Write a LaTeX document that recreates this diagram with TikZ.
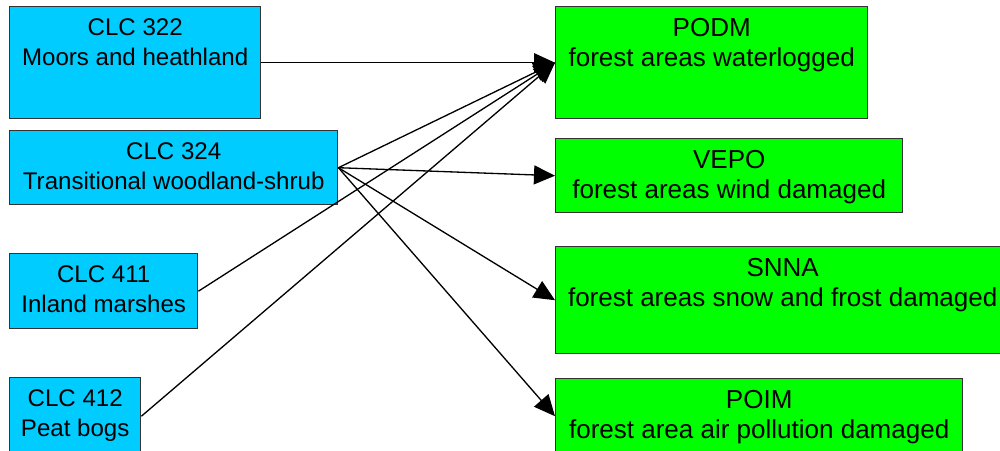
\documentclass[tikz,border=0pt]{standalone}
\usepackage{fontspec}
\setmainfont{Liberation Sans}
\usetikzlibrary{positioning}
\usetikzlibrary{arrows.meta}
\definecolor{clcblue}{HTML}{00CCFF}
\definecolor{dmggreen}{HTML}{00FF00}
\definecolor{boxline}{HTML}{333333}
\tikzset{
clc/.style={ % land cover classes on the left
draw=boxline, line width=0.8pt,
fill=clcblue, anchor=north west},
dmg/.style={ % forest damage classes on the right
draw=boxline, line width=0.8pt,
fill=dmggreen, anchor=north west},
clctext/.style={align=center, inner sep=0pt,
font=\fontsize{13.7}{17.1}\selectfont},
dmgtext/.style={align=center, inner sep=0pt,
font=\fontsize{14.8}{17.1}\selectfont},
every edge/.style={ % arrows from class to damage
draw,
-{Triangle[length=0.42cm,width=0.38cm]},
line width=0.75pt}}

\begin{document}
\begin{tikzpicture}
\clip (0,0) rectangle (20,-9);
% left column
\node[clc, minimum width=5.02cm, minimum height=2.24cm] (c322) at (0.18,-0.12) {};
\node[clc, minimum width=6.56cm, minimum height=1.48cm] (c324) at (0.18,-2.60) {};
\node[clc, minimum width=3.76cm, minimum height=1.50cm] (c411) at (0.18,-5.06) {};
\node[clc, minimum width=2.62cm, minimum height=1.54cm] (c412) at (0.18,-7.54) {};
\node[clctext, below=0.24cm of c322.north] (t322) {CLC 322\\Moors and heathland};
\node[clctext, below=0.24cm of c324.north] (t324) {CLC 324\\Transitional woodland-shrub};
\node[clctext, below=0.24cm of c411.north] (t411) {CLC 411\\Inland marshes};
\node[clctext, below=0.24cm of c412.north] (t412) {CLC 412\\Peat bogs};
% right column
\node[dmg, minimum width=6.24cm, minimum height=2.24cm] (podm) at (11.10,-0.12) {};
\node[dmg, minimum width=6.94cm, minimum height=1.48cm] (vepo) at (11.10,-2.76) {};
\node[dmg, minimum width=9.08cm, minimum height=2.14cm] (snna) at (11.10,-4.92) {};
\node[dmg, minimum width=8.14cm, minimum height=1.50cm] (poim) at (11.10,-7.56) {};
\node[dmgtext, below=0.24cm of podm.north] (tpodm) {PODM\\forest areas waterlogged};
\node[dmgtext, below=0.24cm of vepo.north] (tvepo) {VEPO\\forest areas wind damaged};
\node[dmgtext, below=0.24cm of snna.north] (tsnna) {SNNA\\forest areas snow and frost damaged};
\node[dmgtext, below=0.24cm of poim.north] (tpoim) {POIM\\forest area air pollution damaged};
% connections
\draw (c322.east) edge (podm.west);
\draw (c324.east) edge (podm.west);
\draw (c324.east) edge (vepo.west);
\draw (c324.east) edge (snna.west);
\draw (c324.east) edge (poim.west);
\draw (c411.east) edge (podm.west);
\draw (c412.east) edge (podm.west);
\end{tikzpicture}
\end{document}
